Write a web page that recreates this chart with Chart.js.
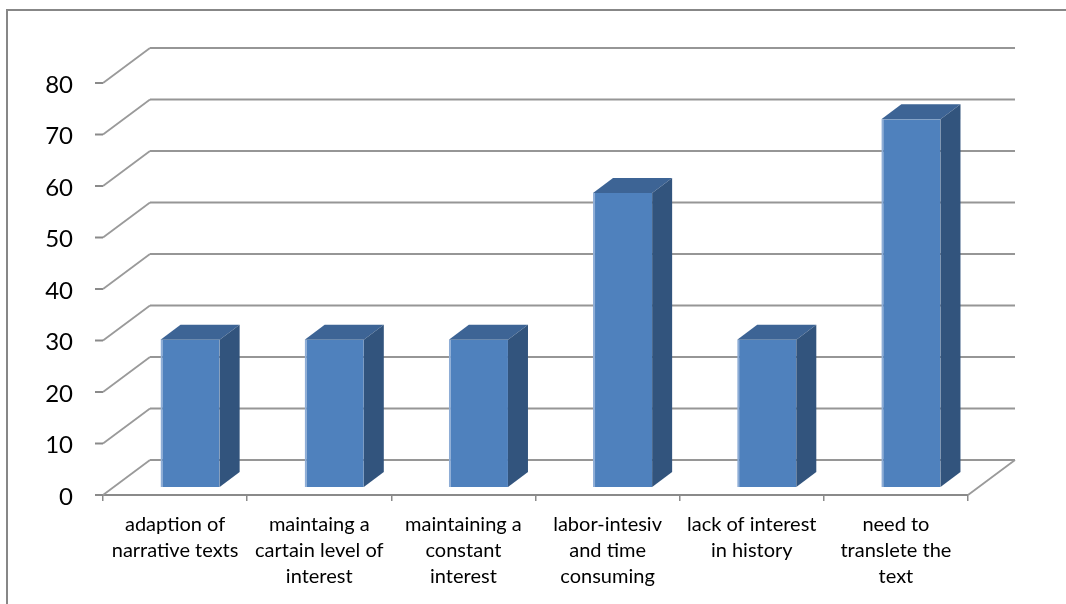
<!DOCTYPE html>
<html>
<head>
<meta charset="utf-8">
<script src="https://cdn.jsdelivr.net/npm/chart.js@4"></script>
<style>
    html, body { margin: 0; padding: 0; background: #fff; }
    #wrap { width: 1066px; height: 604px; }
</style>
</head>
<body>
<div id="wrap"><canvas id="barChart" width="1066" height="604"></canvas></div>
<script>
// Category labels (already wrapped like the original)
const categories = [
    ['adaption of', 'narrative texts'],
    ['maintaing a', 'cartain level of', 'interest'],
    ['maintaining a', 'constant', 'interest'],
    ['labor-intesiv', 'and time', 'consuming'],
    ['lack of interest', 'in history'],
    ['need to', 'translete the', 'text']
];
const values = [28.6, 28.6, 28.6, 57.1, 28.6, 71.4];
const yMin = 0;
const yMax = 80;
const yStep = 10;

// 3D look: offsets for the back wall, the bar plane and the bar depth
const WALL_DX = 47, WALL_DY = -35;
const BAR_DX = 15, BAR_DY = -8;
const DEPTH_DX = 20, DEPTH_DY = -15;

const threeD = {
    id: 'threeD',
    beforeDraw(chart) {
        const ctx = chart.ctx;
        // outer frame (only left and top are visible)
        ctx.save();
        ctx.strokeStyle = '#878787';
        ctx.lineWidth = 2;
        ctx.beginPath();
        ctx.moveTo(7, 604);
        ctx.lineTo(7, 10);
        ctx.lineTo(1066, 10);
        ctx.stroke();
        ctx.restore();
    },
    beforeDatasetsDraw(chart) {
        const ctx = chart.ctx;
        const area = chart.chartArea;
        const yScale = chart.scales.y;
        ctx.save();
        yScale.ticks.forEach(t => {
            const py = yScale.getPixelForValue(t.value);
            // tick mark
            ctx.strokeStyle = '#8a8a8a';
            ctx.lineWidth = 2;
            ctx.beginPath();
            ctx.moveTo(area.left - 8, py);
            ctx.lineTo(area.left, py);
            ctx.stroke();
            // side wall diagonal
            ctx.strokeStyle = '#9a9a9a';
            ctx.lineWidth = 1.8;
            ctx.beginPath();
            ctx.moveTo(area.left, py);
            ctx.lineTo(area.left + WALL_DX, py + WALL_DY);
            ctx.stroke();
            // back wall line
            ctx.strokeStyle = '#969696';
            ctx.lineWidth = 2.2;
            ctx.beginPath();
            ctx.moveTo(area.left + WALL_DX, py + WALL_DY);
            ctx.lineTo(area.right + WALL_DX, py + WALL_DY);
            ctx.stroke();
        });
        // floor right edge
        ctx.strokeStyle = '#9a9a9a';
        ctx.lineWidth = 1.8;
        ctx.beginPath();
        ctx.moveTo(area.right, area.bottom);
        ctx.lineTo(area.right + WALL_DX, area.bottom + WALL_DY);
        ctx.stroke();
        ctx.restore();

        // bars are drawn in a plane a little behind the front edge
        ctx.save();
        ctx.translate(BAR_DX, BAR_DY);
    },
    afterDatasetsDraw(chart) {
        const ctx = chart.ctx;
        const meta = chart.getDatasetMeta(0);
        meta.data.forEach(bar => {
            const { x, y, base, width } = bar.getProps(['x', 'y', 'base', 'width'], true);
            const l = x - width / 2;
            const r = x + width / 2;
            // top face
            ctx.fillStyle = '#3d6495';
            ctx.beginPath();
            ctx.moveTo(l, y);
            ctx.lineTo(l + DEPTH_DX, y + DEPTH_DY);
            ctx.lineTo(r + DEPTH_DX, y + DEPTH_DY);
            ctx.lineTo(r, y);
            ctx.closePath();
            ctx.fill();
            // side face
            ctx.fillStyle = '#32547d';
            ctx.beginPath();
            ctx.moveTo(r, y);
            ctx.lineTo(r + DEPTH_DX, y + DEPTH_DY);
            ctx.lineTo(r + DEPTH_DX, base + DEPTH_DY);
            ctx.lineTo(r, base);
            ctx.closePath();
            ctx.fill();
        });
        ctx.restore();
    }
};

const ctx = document.getElementById('barChart').getContext('2d');
const barChart = new Chart(ctx, {
    type: 'bar',
    data: {
        labels: categories,
        datasets: [{
            data: values,
            backgroundColor: '#4f81bd',
            borderColor: '#8eadd6',
            borderWidth: { left: 2, top: 0, right: 0, bottom: 0 },
            borderSkipped: false,
            barPercentage: 0.41,
            categoryPercentage: 1
        }]
    },
    options: {
        responsive: false,
        animation: false,
        layout: {
            padding: { left: 0, right: 98, top: 83, bottom: 0 }
        },
        scales: {
            x: {
                offset: true,
                grid: {
                    display: true,
                    offset: true,
                    drawOnChartArea: false,
                    drawTicks: true,
                    tickLength: 6,
                    color: '#8a8a8a',
                    lineWidth: 1.5
                },
                border: {
                    display: true,
                    color: '#8a8a8a',
                    width: 2
                },
                ticks: {
                    color: '#000',
                    maxRotation: 0,
                    autoSkip: false,
                    padding: 11,
                    font: { family: 'Lato', size: 20, lineHeight: 1.3 }
                },
                afterFit(scale) {
                    scale.height = 109;
                }
            },
            y: {
                min: yMin,
                max: yMax,
                ticks: {
                    stepSize: yStep,
                    color: '#000',
                    padding: 22,
                    labelOffset: 2,
                    font: { family: 'Lato', size: 24 }
                },
                grid: { display: false },
                border: { display: false },
                afterFit(scale) {
                    scale.width = 103;
                }
            }
        },
        plugins: {
            legend: { display: false },
            tooltip: { enabled: false }
        }
    },
    plugins: [threeD]
});
</script>
</body>
</html>
